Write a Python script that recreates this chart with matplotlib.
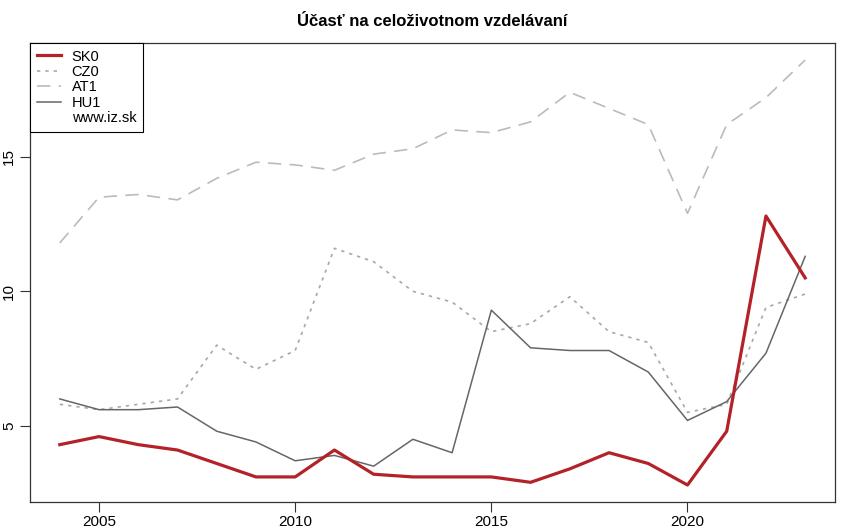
import numpy as np
import matplotlib.pyplot as plt
from matplotlib.lines import Line2D

plt.rcParams['font.family'] = ['Liberation Sans', 'DejaVu Sans']

years = list(range(2004, 2024))
sk0 = [4.3, 4.6, 4.3, 4.1, 3.6, 3.1, 3.1, 4.1, 3.2, 3.1, 3.1, 3.1, 2.9, 3.4, 4.0, 3.6, 2.8, 4.8, 12.8, 10.5]
cz0 = [5.8, 5.6, 5.8, 6.0, 8.0, 7.1, 7.8, 11.6, 11.1, 10.0, 9.6, 8.5, 8.8, 9.8, 8.5, 8.1, 5.5, 5.8, 9.4, 9.9]
at1 = [11.8, 13.5, 13.6, 13.4, 14.2, 14.8, 14.7, 14.5, 15.1, 15.3, 16.0, 15.9, 16.3, 17.4, 16.8, 16.2, 12.9, 16.2, 17.2, 18.6]
hu1 = [6.0, 5.6, 5.6, 5.7, 4.8, 4.4, 3.7, 3.9, 3.5, 4.5, 4.0, 9.3, 7.9, 7.8, 7.8, 7.0, 5.2, 5.9, 7.7, 11.3]

labels = ["SK0", "CZ0", "AT1", "HU1"]
title = "Účasť na celoživotnom vzdelávaní"

fig = plt.figure(figsize=(8.5, 5.32), dpi=100)
ax = fig.add_axes([30/850, 30/532, 805/850, 459/532])

ax.plot(years, sk0, color="#B22228", linewidth=2.3, label=labels[0], zorder=5)
ax.plot(years, cz0, color="#A8A8A8", linewidth=1.2, linestyle=(0, (2, 3)), label=labels[1])
ax.plot(years, at1, color="#B8BBC2", linewidth=1.2, linestyle=(0, (8, 5)), label=labels[2])
ax.plot(years, hu1, color="#666666", linewidth=1.1, label=labels[3])

# R-like axis extents (4% padding)
allv = np.concatenate([sk0, cz0, at1, hu1])
xr = years[-1] - years[0]
yr = allv.max() - allv.min()
ax.set_xlim(years[0] - 0.04*xr, years[-1] + 0.04*xr)
ax.set_ylim(allv.min() - 0.04*yr, allv.max() + 0.04*yr)

ax.set_xticks([2005, 2010, 2015, 2020])
ax.set_yticks([5, 10, 15])
ax.tick_params(direction='out', length=7, width=0.8, labelsize=11, color='#333333')
ax.tick_params(axis='x', pad=2)
ax.tick_params(axis='y', pad=3)
for t in ax.get_yticklabels():
    t.set_rotation(90)
    t.set_va('center')
for s in ax.spines.values():
    s.set_color('#333333')
    s.set_linewidth(0.9)

ax.set_title(title, fontsize=12, fontweight='bold', pad=12)

handles, lbls = ax.get_legend_handles_labels()
handles.append(Line2D([], [], linestyle='none'))
lbls.append("www.iz.sk")
leg = ax.legend(handles, lbls, loc='upper left', borderaxespad=0, fancybox=False,
                edgecolor='black', framealpha=1, fontsize=10.5, handlelength=1.7,
                labelspacing=0.1, borderpad=0.45, handletextpad=0.7)
leg.get_frame().set_linewidth(0.8)

fig.savefig("out.png", dpi=100)
